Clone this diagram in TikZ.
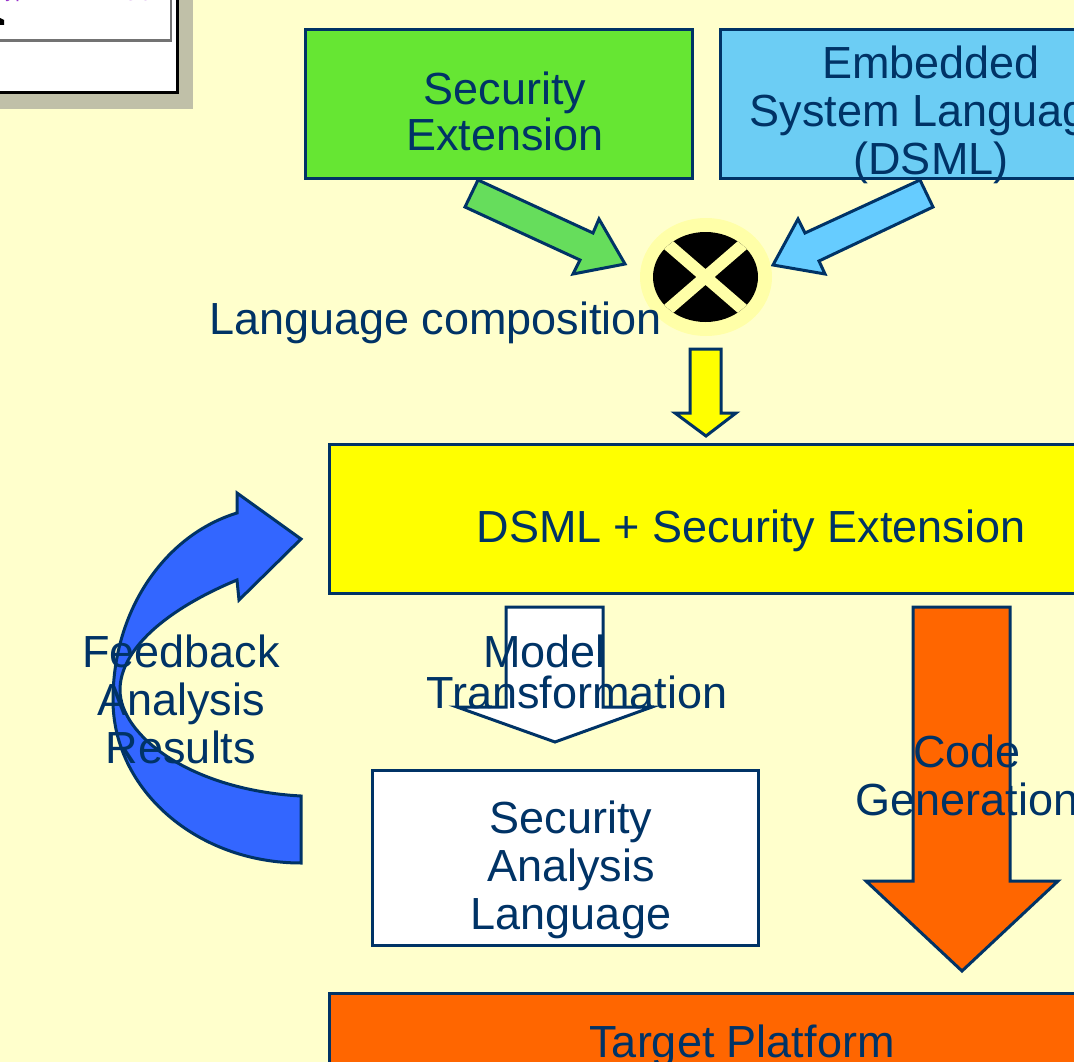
\documentclass[tikz,border=0pt]{standalone}
\usepackage{fontspec}
\setmainfont{Liberation Sans}
\usetikzlibrary{shapes.geometric}
\definecolor{bg}{HTML}{FFFFCC}
\definecolor{navy}{HTML}{003366}
\definecolor{secgreen}{HTML}{66E633}
\definecolor{arrgreen}{HTML}{66DD5C}
\definecolor{dsmlblue}{HTML}{6CCDF4}
\definecolor{arrblue}{HTML}{66CCFF}
\definecolor{dsmlyellow}{HTML}{FFFF00}
\definecolor{platorange}{HTML}{FF6600}
\definecolor{fbblue}{HTML}{3366FF}
\definecolor{halo}{HTML}{FFFFA8}
\definecolor{shadowgrey}{HTML}{C0C0A8}
\definecolor{insetpurple}{HTML}{9933CC}
\begin{document}
\begin{tikzpicture}[x=1pt,y=-1pt,
  box/.style={draw=navy, line width=3pt, inner sep=0pt},
  blockarrow/.style={draw=navy, line width=3pt, line join=miter},
  lbl/.style={text=navy, align=center, inner sep=0pt,
    font=\fontsize{45}{48}\selectfont}]
\useasboundingbox (0,0) rectangle (1074,1062);
\clip (0,0) rectangle (1074,1062);
\fill[bg] (0,0) rectangle (1074,1062);

% inset window in the corner
\fill[shadowgrey] (0,0) rectangle (193,109);
\draw[black, line width=3pt, fill=white] (-5,-5) rectangle (177.5,93);
\draw[black!55, line width=2.5pt, fill=white] (-5,-5) rectangle (171,40.5);
\node[anchor=base west, inner sep=0pt, text=insetpurple, font=\fontsize{20}{20}\selectfont] (insettype) at (-6,-2) {Type};
\node[anchor=base west, inner sep=0pt, text=insetpurple, font=\fontsize{20}{20}\selectfont] (insetfield) at (115,0.5) {field};
\fill[black] (0,18) -- (4,20) -- (4,25) -- (0,25) -- cycle;

% source languages
\node[box, fill=secgreen, minimum width=387pt, minimum height=149pt] (secext) at (498.5,104.5) {};
\node[box, fill=dsmlblue, minimum width=400pt, minimum height=149pt] (dsml) at (920,104.5) {};

% composition arrows
\draw[blockarrow, fill=arrgreen] (478,180) -- (593,233) -- (599,219) -- (625,264)
  -- (573,274) -- (580,260) -- (465,207) -- cycle;
\draw[blockarrow, fill=arrblue] (920,180) -- (933,207) -- (819,261) -- (825,274)
  -- (773,265) -- (798,219) -- (805,233) -- cycle;

\node[lbl, font=\fontsize{45}{46}\selectfont] (secextlbl) at (505,111) {Security\\Extension};
\node[lbl] (dsmllbl) at (931,115) {Embedded\\System Language\\(DSML)};

% composition operator
\fill[halo] (706,277) ellipse [x radius=66, y radius=59];
\node[ellipse, minimum width=105pt, minimum height=90pt, inner sep=0pt] (compose) at (705.5,277) {};
\begin{scope}
  \clip (705.5,277) ellipse [x radius=52.5, y radius=45];
  \fill[black] (650,230) rectangle (760,325);
  \draw[halo, line width=12pt] (650,229) -- (761,325) (650,325) -- (761,229);
\end{scope}
\node[lbl, anchor=base west] (complbl) at (209,334) {Language composition};

% composed language
\draw[blockarrow, fill=dsmlyellow] (690,349) -- (721,349) -- (721,413) -- (736,413)
  -- (706,436) -- (675,413) -- (690,413) -- cycle;
\node[box, fill=dsmlyellow, minimum width=760pt, minimum height=149pt] (combined) at (709,518.5) {};
\node[lbl, anchor=base] (combinedlbl) at (751,542) {DSML + Security Extension};

% model transformation
\draw[blockarrow, fill=white] (506,607) -- (603,607) -- (603,707) -- (652,707)
  -- (555,742) -- (457,707) -- (506,707) -- cycle;
\node[lbl, font=\fontsize{45}{41}\selectfont] (transflbl) at (577,672) {Model\hspace*{65pt}\\Transformation};

% analysis language
\node[box, fill=white, minimum width=386pt, minimum height=175pt] (analysis) at (565,857.5) {};
\node[lbl] (analysislbl) at (571,870) {Security\\Analysis\\Language};

% code generation
\draw[blockarrow, fill=platorange] (913,607) -- (1010,607) -- (1010,881) -- (1058,881)
  -- (962,971) -- (866,881) -- (913,881) -- cycle;
\node[lbl] (codegenlbl) at (967,775.5) {Code\\Generation};

% target platform
\node[box, fill=platorange, minimum width=760pt, minimum height=149pt] (platform) at (709,1067.5) {};
\node[lbl, anchor=base] (platformlbl) at (742,1057) {Target Platform};

% feedback loop
\draw[blockarrow, fill=fbblue] (301,863) .. controls (197,863) and (113,790) .. (113,700)
  .. controls (113,610) and (165,535) .. (237,513) -- (237,493) -- (301,539)
  -- (239,600) -- (237,580) .. controls (165,610) and (120,650) .. (120,690)
  .. controls (120,735) and (190,790) .. (301,796) -- cycle;
\node[lbl] (feedbacklbl) at (181,699.5) {Feedback\\Analysis\\Results};
\end{tikzpicture}
\end{document}
